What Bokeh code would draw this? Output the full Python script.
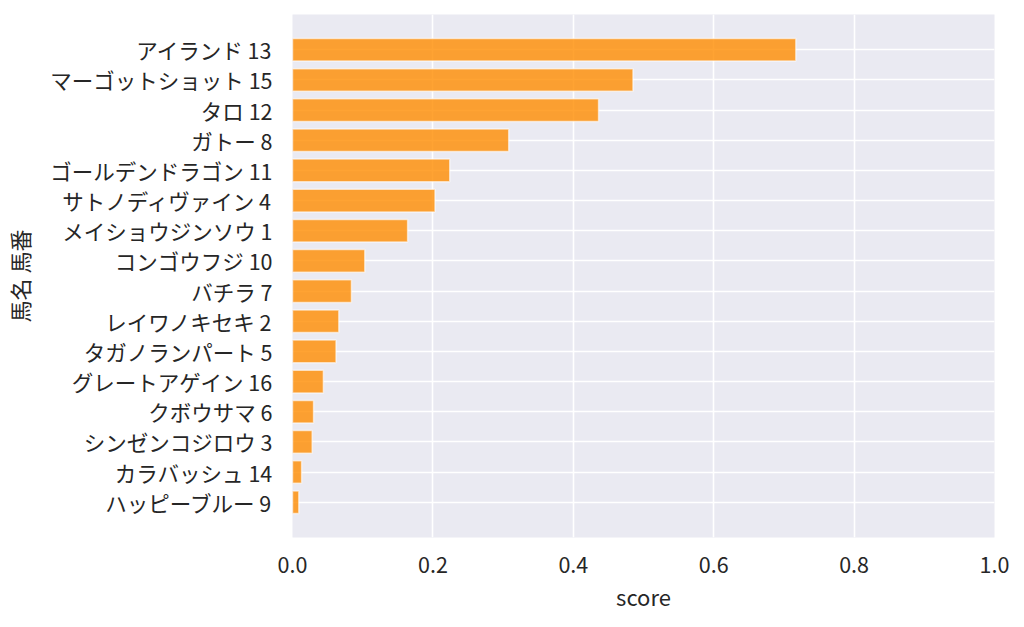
from bokeh.plotting import figure
from bokeh.models import FactorRange, ColumnDataSource
from bokeh.embed import file_html
from bokeh.resources import INLINE

# Data (top to bottom as displayed)
names = ["アイランド", "マーゴットショット", "タロ", "ガトー", "ゴールデンドラゴン",
         "サトノディヴァイン", "メイショウジンソウ", "コンゴウフジ", "バチラ",
         "レイワノキセキ", "タガノランパート", "グレートアゲイン", "クボウサマ",
         "シンゼンコジロウ", "カラバッシュ", "ハッピーブルー"]
numbers = [13, 15, 12, 8, 11, 4, 1, 10, 7, 2, 5, 16, 6, 3, 14, 9]
scores = [0.717, 0.485, 0.436, 0.308, 0.224, 0.203, 0.164, 0.103, 0.084,
          0.066, 0.062, 0.044, 0.030, 0.028, 0.013, 0.009]
x_ticks = [0.0, 0.2, 0.4, 0.6, 0.8, 1.0]

labels = [f"{n} {k}" for n, k in zip(names, numbers)]
src = ColumnDataSource(dict(label=labels, score=scores))

FONT = "Noto Sans CJK JP"
TXT = "#262626"

yr = FactorRange(factors=list(reversed(labels)), range_padding=0.67,
                 range_padding_units="absolute")

p = figure(width=1008, height=611, y_range=yr, x_range=(0, 1),
           output_backend="svg", toolbar_location=None,
           frame_width=702, frame_height=523,
           min_border_left=290, min_border_right=16,
           min_border_top=14, min_border_bottom=74)

p.hbar(y="label", right="score", left=0, height=0.75, source=src,
       fill_color="#ff8c00", fill_alpha=0.8,
       line_color="#ffffff", line_alpha=0.6, line_width=1.5)

p.background_fill_color = "#eaeaf2"
p.border_fill_color = "white"
p.outline_line_color = None

for g in (p.xgrid, p.ygrid):
    g.grid_line_color = "white"
    g.grid_line_width = 1.6

p.xaxis.ticker = x_ticks
p.xaxis.major_label_overrides = {t: f"{t:.1f}" for t in x_ticks}

for ax in (p.xaxis, p.yaxis):
    ax.axis_line_color = None
    ax.major_tick_line_color = None
    ax.minor_tick_line_color = None
    ax.major_tick_out = 0
    ax.major_tick_in = 0
    ax.major_label_text_font = FONT
    ax.major_label_text_font_size = "21.5px"
    ax.major_label_text_color = TXT
    ax.axis_label_text_font = FONT
    ax.axis_label_text_font_size = "22px"
    ax.axis_label_text_font_style = "normal"
    ax.axis_label_text_color = TXT

p.xaxis.axis_label = "score"
p.yaxis.axis_label = "馬名 馬番"
p.yaxis.major_label_standoff = 20
p.xaxis.major_label_standoff = 19
p.xaxis.axis_label_standoff = 4
p.yaxis.axis_label_standoff = 12

open("out.html", "w").write(file_html(p, INLINE))
